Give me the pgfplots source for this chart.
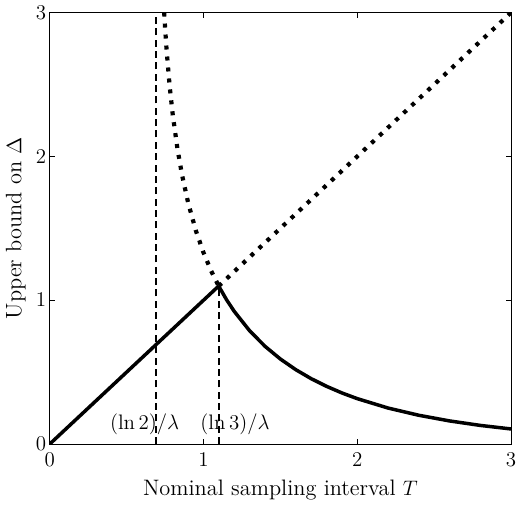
\documentclass[border=0pt]{standalone}
\usepackage{pgfplots}
\pgfplotsset{compat=1.18}

\begin{document}
\begin{tikzpicture}
\begin{axis}[
  scale only axis, width=9.28cm, height=8.68cm,
  xmin=0, xmax=3, ymin=0, ymax=3,
  xtick={0,1,2,3}, ytick={0,1,2,3},
  tick align=inside, major tick length=3pt,
  tick label style={font=\fontsize{12.8}{15}\selectfont},
  x tick label style={yshift=-1.5pt},
  y tick label style={xshift=1.5pt},
  label style={font=\fontsize{12.8}{15}\selectfont},
  xlabel={Nominal sampling interval $T$},
  ylabel={Upper bound on $\Delta$},
  xlabel style={yshift=-1pt},
  ylabel style={yshift=-1pt},
  axis line style={line width=0.6pt},
  every tick/.style={line width=0.5pt},
  clip=true]
% Delta = T, solid below ln 3
\addplot[black, line width=2pt] coordinates {(0,0) (1.0986,1.0986)};
% Delta = T, dotted above ln 3
\addplot[black, line width=2.4pt, dash pattern=on 2.3pt off 4pt] coordinates {(1.0986,1.0986) (3,3)};
% decreasing bound, solid beyond ln 3
\addplot[black, line width=2pt] coordinates {
(1.0986,1.0986) (1.15,1.0031) (1.2,0.9223) (1.3,0.7876) (1.4,0.6796)
(1.5,0.5911) (1.6,0.5172) (1.7,0.4547) (1.8,0.4014) (1.9,0.3554)
(2.0,0.3157) (2.2,0.2505) (2.4,0.2002) (2.6,0.1608) (2.8,0.1296) (3.0,0.1049)};
% decreasing bound, dotted below ln 3
\addplot[black, line width=2.4pt, dash pattern=on 2.3pt off 4pt] coordinates {
(0.7442,3.0) (0.75,2.8956) (0.76,2.7383) (0.78,2.4865) (0.80,2.2894)
(0.83,2.0565) (0.86,1.8728) (0.90,1.6774) (0.95,1.4850) (1.00,1.3309)
(1.05,1.2035) (1.0986,1.0986)};
% reference lines
\addplot[black, line width=0.95pt, dash pattern=on 4pt off 2.5pt] coordinates {(0.6931,0) (0.6931,3)};
\addplot[black, line width=0.95pt, dash pattern=on 4pt off 2.5pt] coordinates {(1.0986,0) (1.0986,1.0986)};
\node[font=\fontsize{12.8}{15}\selectfont] at (axis cs:0.617,0.14) {$(\ln 2)/\lambda$};
\node[font=\fontsize{12.8}{15}\selectfont] at (axis cs:1.205,0.14) {$(\ln 3)/\lambda$};
\end{axis}
\end{tikzpicture}
\end{document}
